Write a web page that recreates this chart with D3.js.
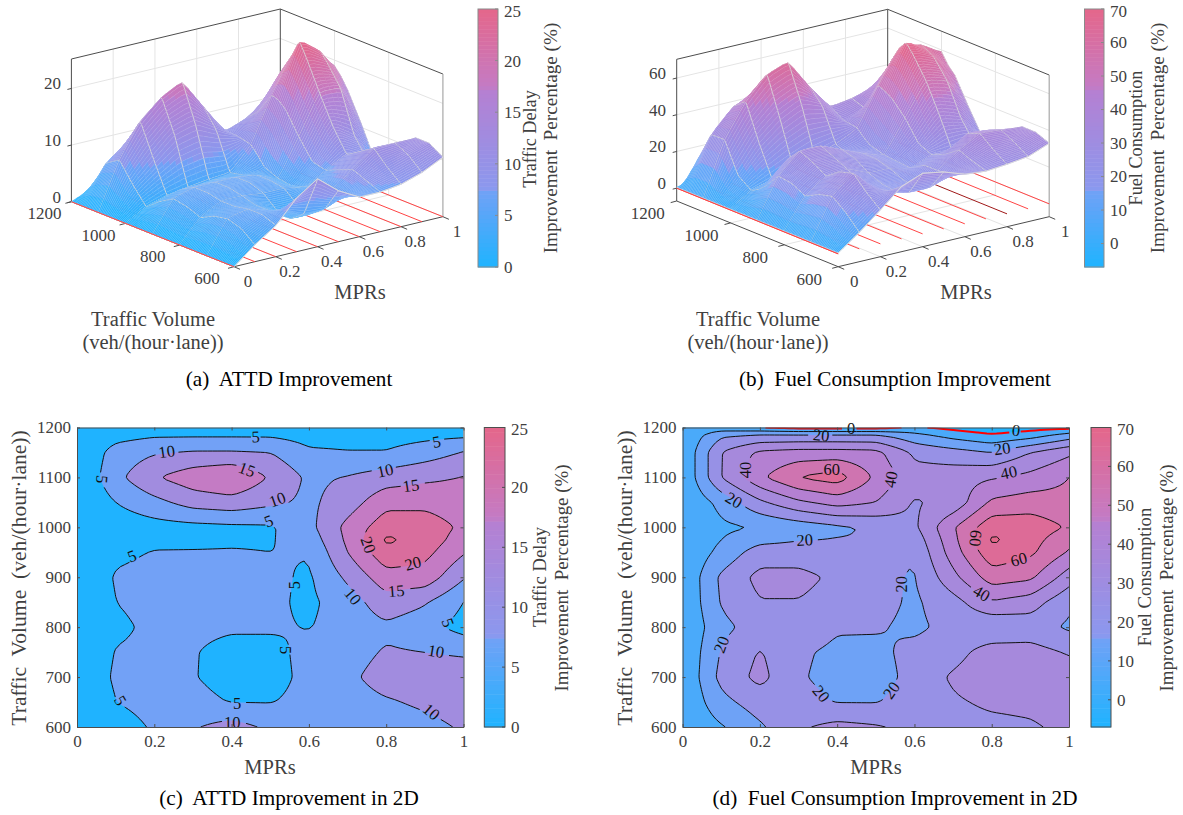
<!DOCTYPE html>
<html>
<head>
<meta charset="utf-8">
<script src="https://cdn.jsdelivr.net/npm/d3@7"></script>
<style>
body { margin: 0; background: #fff; }
text { font-family: "Liberation Serif", serif; fill: #404040; }
.caption { fill: #000; }
</style>
</head>
<body>
<svg width="1183" height="815"></svg>
<script>
const mprs = [0, .1, .2, .3, .4, .5, .6, .7, .8, .9, 1];
const vols = [600, 650, 700, 750, 800, 850, 900, 950, 975, 1000, 1050, 1100, 1150, 1185, 1200];

// one row per volume, one column per MPR
const attd = [
    [0, 3, 5.5, 9.5, 12, 9, 7, 7, 7.5, 8.7, 10.5],
    [0, 5, 6.5, 6.5, 4.8, 4.8, 6.5, 8, 9.5, 10.8, 12],
    [0, 5.8, 6.5, 5.3, 3, 3, 6.5, 9, 12, 12, 12],
    [0, 5.3, 6, 5.3, 3.5, 3.5, 6.5, 8, 10.5, 10, 9.5],
    [0, 4, 6, 6, 5.6, 5.6, 4.8, 7, 9, 7, 3],
    [0, 5, 6.5, 6.5, 6.5, 6, 4, 7.5, 13, 10.5, 5],
    [0, 5.5, 6.5, 6.5, 6.5, 6, 4.3, 11, 18, 18, 10.5],
    [0, 4, 5.2, 5.2, 5.2, 5, 5.3, 15, 23.5, 21.5, 15.5],
    [0, 3, 4.1, 4.3, 4.6, 4.7, 7, 16, 26, 23, 17.5],
    [0, 2, 3, 3.5, 4, 4.4, 8.5, 16.5, 23, 23, 19],
    [0, 5, 8.5, 12, 13, 11, 9, 12.5, 18.5, 18.5, 17],
    [0, 8.5, 14.5, 18, 20, 14.5, 9, 10.3, 12.5, 14, 15.2],
    [0, 7, 9.5, 10.5, 10.5, 10, 5.8, 5.3, 5.3, 7.5, 10.3],
    [0, 3.2, 4.3, 4.3, 4.3, 4.3, 3.1, 3, 3, 3.6, 4],
    [0, 1.5, 2.5, 2.5, 2.5, 2.5, 2, 2, 2, 2.5, 3]
];
const fuel = [
    [0.5, 9, 18.5, 28.5, 33, 31, 27, 26, 27, 28.5, 33],
    [0.5, 17, 25, 23, 19.5, 19.5, 24, 28.5, 32, 33, 36],
    [0.5, 23, 33, 21, 17, 16, 23, 31.5, 38, 37, 36],
    [0.5, 21, 30.8, 21.5, 18, 17.5, 23, 26, 35, 34, 29],
    [0.5, 17, 25, 26, 21, 21, 18, 23, 21, 24, 18.5],
    [0.5, 21, 29.5, 29.5, 26, 23, 18.5, 26, 39, 35, 22],
    [0.5, 22, 33, 33, 28, 23, 19, 37, 55, 52, 35],
    [0.5, 13, 25, 25, 23, 21, 21, 45, 67, 62, 49],
    [0.5, 10, 17, 19.5, 20.5, 20.5, 24, 47, 72, 64, 53],
    [0.5, 8, 10.5, 14, 18, 22, 28, 49, 67, 66, 59],
    [0.5, 13, 28, 38, 44, 40, 29, 33, 52, 55, 53],
    [0.5, 30, 48, 60.5, 65, 48, 34, 36, 39, 43, 50],
    [0.5, 30, 42, 44, 44, 43, 28, 24, 20, 30, 38],
    [0.5, 18, 21, 21, 21, 21, 13, 6, 1, 5, 14],
    [0.5, 3, 0.5, -3, -3, -3, 1.5, -3, -7, -4, -3]
];

const attdLevels = [5, 10, 15, 20, 25];
const fuelLevels = [0, 10, 20, 30, 40, 50, 60, 70];
const attdTicks = [0, 5, 10, 15, 20, 25];
const fuelTicks = [0, 10, 20, 30, 40, 50, 60, 70];
const attdZTicks = [0, 10, 20];
const fuelZTicks = [0, 20, 40, 60];
const mprTicks = [0, .2, .4, .6, .8, 1];
const volTicks = [600, 700, 800, 900, 1000, 1100, 1200];
const vol3dTicks = [600, 800, 1000, 1200];

// level, mpr, volume, angle
const attdLabels = [
    [5, .462, 1182, -2], [5, .93, 1172, -10], [5, .065, 1096, 95], [10, .232, 1152, -8],
    [15, .44, 1116, 20], [10, .518, 1056, -20], [5, .496, 1013, -20], [10, .797, 1114, -12],
    [15, .864, 1084, -8], [5, .142, 943, -20], [20, .754, 965, 70], [20, .869, 928, -15],
    [5, .563, 884, -90], [15, .826, 873, -5], [10, .714, 862, 50], [5, .96, 809, 70],
    [5, .539, 754, 90], [10, .929, 752, 10], [5, .414, 647, 0], [5, .113, 653, 60],
    [10, .917, 631, 40], [10, .402, 610, 0]
];
const fuelLabels = [
    [0, .436, 1199, 0], [0, .863, 1195, 5], [20, .359, 1185, 5], [20, .827, 1158, -8],
    [60, .386, 1116, 0], [40, .162, 1115, -90], [40, .538, 1096, -80], [40, .844, 1110, -12],
    [20, .133, 1055, 30], [20, .316, 975, -3], [60, .759, 978, 95], [60, .87, 936, -15],
    [20, .566, 886, -90], [40, .774, 868, 30], [20, .1, 765, -70], [20, .359, 667, 50],
    [20, .54, 674, -55]
];

const rampStops = [0, .3, .305, .68, .7, 1];
const rampColors = ["#1fb3ff", "#72a1f6", "#8b98ee", "#b580d2", "#c47bc4", "#e4668a"];
const ramp = d3.scaleLinear().domain(rampStops).range(rampColors).interpolate(d3.interpolateRgb);

const svg = d3.select("svg");
const nx = 81, ny = 121;
const ink = "#4d4d4d";
const tickSize = "17px";

// resample the read values to the fine mesh the surface and contours are drawn on
function refine(rows) {
    const field = [];
    for (let j = 0; j < ny; j++) {
        const v = 600 + j * 600 / (ny - 1);
        const r = Math.min(d3.bisectRight(vols, v), vols.length - 1);
        const tv = (v - vols[r - 1]) / (vols[r] - vols[r - 1]);
        for (let i = 0; i < nx; i++) {
            const m = i / (nx - 1);
            const c = Math.min(d3.bisectRight(mprs, m + 1e-9), mprs.length - 1);
            const tm = (m - mprs[c - 1]) / (mprs[c] - mprs[c - 1]);
            const lo = rows[r - 1][c - 1] * (1 - tm) + rows[r - 1][c] * tm;
            const hi = rows[r][c - 1] * (1 - tm) + rows[r][c] * tm;
            field.push(lo * (1 - tv) + hi * tv);
        }
    }
    // soften the interior a little, the outer rows stay as read
    const next = field.slice();
    for (let j = 1; j < ny - 1; j++) for (let i = 1; i < nx - 1; i++) {
        let s = 0;
        for (let dj = -1; dj <= 1; dj++) for (let di = -1; di <= 1; di++)
            s += field[(j + dj) * nx + i + di] * (2 - Math.abs(di)) * (2 - Math.abs(dj)) / 16;
        next[j * nx + i] = s;
    }
    return next;
}

function tickText(g, x, y, str, anchor) {
    g.append("text").attr("x", x).attr("y", y).attr("dy", "0.35em")
        .attr("text-anchor", anchor || "middle").style("font-size", tickSize).text(str);
}

function label(x, y, str, size, rot) {
    return svg.append("text").attr("text-anchor", "middle").attr("dy", "0.35em")
        .attr("transform", "translate(" + x + "," + y + ")" + (rot ? " rotate(" + rot + ")" : ""))
        .style("font-size", size + "px").style("white-space", "pre").text(str);
}

function colorbar(o) {
    const y = d3.scaleLinear().domain(o.domain).range([o.y1, o.y0]);
    const g = svg.append("g");
    const steps = d3.range(0, 64);
    const h = (o.y1 - o.y0) / 64;
    g.selectAll("rect").data(steps).join("rect")
        .attr("x", o.x0).attr("width", o.x1 - o.x0)
        .attr("y", d => o.y1 - (d + 1) * h).attr("height", h + .5)
        .attr("fill", d => ramp((d + .5) / 64));
    g.append("rect").attr("x", o.x0).attr("y", o.y0).attr("width", o.x1 - o.x0).attr("height", o.y1 - o.y0)
        .attr("fill", "none").attr("stroke", o.frame).attr("stroke-width", 1);
    o.ticks.forEach(t => {
        g.append("line").attr("x1", o.x1 - 3).attr("x2", o.x1).attr("y1", y(t)).attr("y2", y(t)).attr("stroke", o.frame);
        tickText(g, o.x1 + 6, Math.max(y(t), o.y0 + 2), t, "start");
    });
}

function contourPanel(o) {
    const field = refine(o.values);
    const x = d3.scaleLinear().domain([0, 1]).range([o.x0, o.x1]);
    const y = d3.scaleLinear().domain([600, 1200]).range([o.y1, o.y0]);
    const cx = d3.scaleLinear().domain([.5, nx - .5]).range([o.x0, o.x1]);
    const cy = d3.scaleLinear().domain([.5, ny - .5]).range([o.y1, o.y0]);
    const g = svg.append("g");
    const t = d3.scaleLinear().domain(o.domain).range([0, 1]);

    const clipId = "clip" + o.id;
    g.append("clipPath").attr("id", clipId).append("rect")
        .attr("x", o.x0).attr("y", o.y0).attr("width", o.x1 - o.x0).attr("height", o.y1 - o.y0);
    const plot = g.append("g").attr("clip-path", "url(#" + clipId + ")");

    const edges = [o.domain[0]].concat(o.levels, [o.domain[1]]);
    const bandColor = lvl => {
        if (lvl === o.domain[0]) return ramp(0);
        const k = edges.indexOf(lvl);
        return ramp(t((edges[k] + edges[Math.min(k + 1, edges.length - 1)]) / 2));
    };
    plot.append("rect").attr("x", o.x0).attr("y", o.y0).attr("width", o.x1 - o.x0).attr("height", o.y1 - o.y0)
        .attr("fill", bandColor(o.domain[0]));

    const shapes = d3.contours().size([nx, ny]).thresholds(o.levels)(field);
    const path = d3.geoPath(d3.geoTransform({
        point: function(px, py) { this.stream.point(cx(px), cy(py)); }
    }));
    plot.selectAll("path.band").data(shapes).join("path").attr("class", "band")
        .attr("d", path).attr("fill", d => bandColor(d.value));

    // contour lines, broken at the frame and around their labels
    const line = d3.line();
    shapes.forEach(shape => {
        const gaps = o.labels.filter(l => l[0] === shape.value)
            .map(l => [x(l[1]), y(l[2]), String(l[0]).length > 1 ? 12 : 7]);
        const runs = [];
        shape.coordinates.forEach(poly => poly.forEach(ring => {
            let run = [];
            for (let k = 1; k < ring.length; k++) {
                const a = ring[k - 1], b = ring[k];
                const outA = a[0] <= .5 || a[0] >= nx - .5 || a[1] <= .5 || a[1] >= ny - .5;
                const outB = b[0] <= .5 || b[0] >= nx - .5 || b[1] <= .5 || b[1] >= ny - .5;
                const pa = [cx(a[0]), cy(a[1])], pb = [cx(b[0]), cy(b[1])];
                const mid = [(pa[0] + pb[0]) / 2, (pa[1] + pb[1]) / 2];
                const hidden = gaps.some(h => Math.hypot(mid[0] - h[0], mid[1] - h[1]) < h[2]);
                if ((outA && outB) || hidden) {
                    if (run.length) runs.push(run);
                    run = [];
                } else {
                    if (!run.length) run.push(pa);
                    run.push(pb);
                }
            }
            if (run.length) runs.push(run);
        }));
        plot.selectAll(null).data(runs).join("path")
            .attr("d", line).attr("fill", "none")
            .attr("stroke", shape.value === 0 ? "#ff0000" : "#111")
            .attr("stroke-width", shape.value === 0 ? 2 : 1);
    });

    o.labels.forEach(l => {
        g.append("text").attr("text-anchor", "middle").attr("dy", "0.35em")
            .attr("transform", "translate(" + x(l[1]) + "," + y(l[2]) + ") rotate(" + l[3] + ")")
            .style("font-size", "16.5px").style("fill", "#111").text(l[0]);
    });

    // frame with ticks pointing inwards
    const plain = d => d;
    const axes = [
        [d3.axisBottom(x).tickValues(mprTicks).tickPadding(8).tickFormat(plain), 0, o.y1],
        [d3.axisLeft(y).tickValues(volTicks).tickPadding(6).tickFormat(plain), o.x0, 0],
        [d3.axisTop(x).tickValues(mprTicks).tickFormat(""), 0, o.y0],
        [d3.axisRight(y).tickValues(volTicks).tickFormat(""), o.x1, 0]
    ];
    axes.forEach(a => {
        const ag = g.append("g").attr("transform", "translate(" + a[1] + "," + a[2] + ")");
        ag.call(a[0].tickSizeInner(-3).tickSizeOuter(0));
        ag.selectAll("path,line").attr("stroke", ink);
        ag.selectAll("text").style("font-size", tickSize).style("fill", "#404040")
            .style("font-family", '"Liberation Serif", serif');
    });
}

function surfacePanel(o) {
    const field = refine(o.values);
    const volT = d3.scaleLinear().domain([1200, 600]).range([0, 1]);
    const mprT = d3.scaleLinear().domain([0, 1]).range([0, 1]);
    const zPx = d3.scaleLinear().domain(o.domain).range([0, o.left[1] - o.topLeft[1]]);
    const t = d3.scaleLinear().domain(o.domain).range([0, 1]);
    const project = (m, v, z) => {
        const a = volT(v), b = mprT(m);
        return [
            o.left[0] + a * (o.front[0] - o.left[0]) + b * (o.right[0] - o.front[0]),
            o.left[1] + a * (o.front[1] - o.left[1]) + b * (o.right[1] - o.front[1]) - zPx(z)
        ];
    };
    const zLo = o.domain[0], zHi = o.domain[1];
    const g = svg.append("g");
    const seg = (pts, color, w) => g.append("path").attr("d", d3.line()(pts)).attr("fill", "none")
        .attr("stroke", color).attr("stroke-width", w);

    // walls and floor
    const grid = "#e4e4e4";
    o.zTicks.forEach(z => {
        seg([project(0, 1200, z), project(1, 1200, z), project(1, 600, z)], grid, 1);
    });
    mprTicks.slice(1, -1).forEach(m => seg([project(m, 600, zLo), project(m, 1200, zLo), project(m, 1200, zHi)], grid, 1));
    vol3dTicks.slice(1, -1).forEach(v => seg([project(0, v, zLo), project(1, v, zLo), project(1, v, zHi)], grid, 1));

    seg([project(0, 1200, zLo), project(0, 1200, zHi), project(1, 1200, zHi), project(1, 600, zHi)], ink, 1);
    seg([project(1, 1200, zHi), project(1, 1200, zLo)], ink, 1);
    seg([project(1, 600, zHi), project(1, 600, zLo)], "#a8a8a8", 1.2);
    seg([project(0, 1200, zLo), project(0, 600, zLo), project(1, 600, zLo)], ink, 1);

    // red lines of the zero plane lie under the surface
    mprs.forEach(m => {
        seg([project(m, 1200, 0), project(m, 600, 0)], m === .8 && zLo < 0 ? "#a01818" : "#f44", 1);
    });

    // ticks and labels
    o.zTicks.forEach(z => {
        const p = project(0, 1200, z);
        seg([p, [p[0] - 4, p[1] + 1]], ink, 1);
        tickText(g, o.zLabelX, p[1] - 5, z, "end");
    });
    vol3dTicks.forEach(v => {
        const p = project(0, v, zLo);
        seg([p, [p[0] - 6, p[1] + 1.6]], ink, 1);
        tickText(g, p[0] + o.volOff[0], p[1] + o.volOff[1], v);
    });
    mprTicks.forEach(m => {
        const p = project(m, 600, zLo);
        seg([p, [p[0] + 6, p[1] + 2.6]], ink, 1);
        tickText(g, p[0] + o.mprOff[0], p[1] + o.mprOff[1], m);
    });

    // surface painted from the far corner to the near one
    const z = (i, j) => field[j * nx + i];
    const pt = (i, j) => project(i / (nx - 1), 600 + j * 600 / (ny - 1), z(i, j));
    const items = [];
    const colStep = 2;
    for (let j = ny - 2; j >= 0; j--) {
        for (let i = nx - 1 - colStep; i >= 0; i -= colStep) {
            const a = pt(i, j), b = pt(i + colStep, j), c = pt(i + colStep, j + 1), e = pt(i, j + 1);
            const color = ramp(t((z(i, j) + z(i + colStep, j) + z(i + colStep, j + 1) + z(i, j + 1)) / 4));
            items.push({ d: "M" + a + "L" + b + "L" + c + "L" + e + "Z", fill: color, stroke: color, w: .5, op: 1 });
        }
        const row = [];
        for (let i = 0; i < nx; i += colStep) row.push(pt(i, j));
        items.push({ d: d3.line()(row), fill: "none", stroke: "#f8f8f8", w: .75, op: .65 });
        if (j % 20 === 0) items.push({ d: d3.line()(row), fill: "none", stroke: "#d8d8d8", w: 1, op: .9 });
        for (let i = 0; i < nx; i += 8) {
            items.push({ d: d3.line()([pt(i, j), pt(i, j + 1)]), fill: "none", stroke: "#d8d8d8", w: 1, op: .9 });
        }
    }
    g.selectAll("path.mesh").data(items).join("path").attr("class", "mesh")
        .attr("d", d => d.d).attr("fill", d => d.fill)
        .attr("stroke", d => d.stroke).attr("stroke-width", d => d.w).attr("stroke-opacity", d => d.op);

    seg([project(0, 1200, 0), project(0, 600, 0)], "#f44", 1);
}

surfacePanel({
    values: attd, domain: [0, 25.2], zTicks: attdZTicks,
    left: [71.4, 201.7], topLeft: [71.4, 59], front: [234, 266.7], right: [442.9, 216.7],
    zLabelX: 61, volOff: [-27, 11.5], mprOff: [14, 14]
});
surfacePanel({
    values: fuel, domain: [-7, 70.2], zTicks: fuelZTicks,
    left: [676.7, 201], topLeft: [676.7, 59.3], front: [838.2, 266.7], right: [1049.2, 216.7],
    zLabelX: 666, volOff: [-29, 12], mprOff: [16, 14]
});
contourPanel({
    id: "c", values: attd, domain: [0, 25], levels: attdLevels, labels: attdLabels,
    x0: 77, x1: 463.5, y0: 427.5, y1: 727
});
contourPanel({
    id: "d", values: fuel, domain: [-7, 70], levels: fuelLevels, labels: fuelLabels,
    x0: 682.6, x1: 1069, y0: 427.5, y1: 727
});

colorbar({ domain: [0, 25], ticks: attdTicks, x0: 478, x1: 498, y0: 9, y1: 267, frame: "#8a8a8a" });
colorbar({ domain: [-7, 70], ticks: fuelTicks, x0: 1084.5, x1: 1104, y0: 9, y1: 267, frame: "#8a8a8a" });
colorbar({ domain: [0, 25], ticks: attdTicks, x0: 484.3, x1: 505, y0: 427.5, y1: 727, frame: ink });
colorbar({ domain: [-7, 70], ticks: fuelTicks, x0: 1091, x1: 1111, y0: 427.5, y1: 727, frame: ink });

const axisSize = 20.5, capSize = 21.2;
label(530, 139, "Traffic Delay", 18.2, -90);
label(550, 138, "Improvement  Percentage (%)", 19.2, -90);
label(1136, 138, "Fuel Consumption", 18.2, -90);
label(1157, 138, "Improvement  Percentage (%)", 19.2, -90);
label(539, 577, "Traffic Delay", 18.7, -90);
label(561, 578, "Improvement  Percentage (%)", 18.9, -90);
label(1144, 577, "Fuel Consumption", 18.7, -90);
label(1166, 578, "Improvement  Percentage (%)", 18.9, -90);

label(360, 292, "MPRs", axisSize);
label(153, 319, "Traffic Volume", axisSize);
label(153, 342, "(veh/(hour·lane))", axisSize);
label(966, 292, "MPRs", axisSize);
label(758, 319, "Traffic Volume", axisSize);
label(758, 342, "(veh/(hour·lane))", axisSize);
label(270, 767, "MPRs", axisSize);
label(18.5, 578, "Traffic  Volume  (veh/(hour·lane))", 21.6, -90);
label(876, 767, "MPRs", axisSize);
label(624, 578, "Traffic  Volume  (veh/(hour·lane))", 21.6, -90);

label(289, 379, "(a)  ATTD Improvement", capSize).attr("class", "caption");
label(895, 379, "(b)  Fuel Consumption Improvement", capSize).attr("class", "caption");
label(289, 798, "(c)  ATTD Improvement in 2D", capSize).attr("class", "caption");
label(895, 798, "(d)  Fuel Consumption Improvement in 2D", capSize).attr("class", "caption");
</script>
</body>
</html>
